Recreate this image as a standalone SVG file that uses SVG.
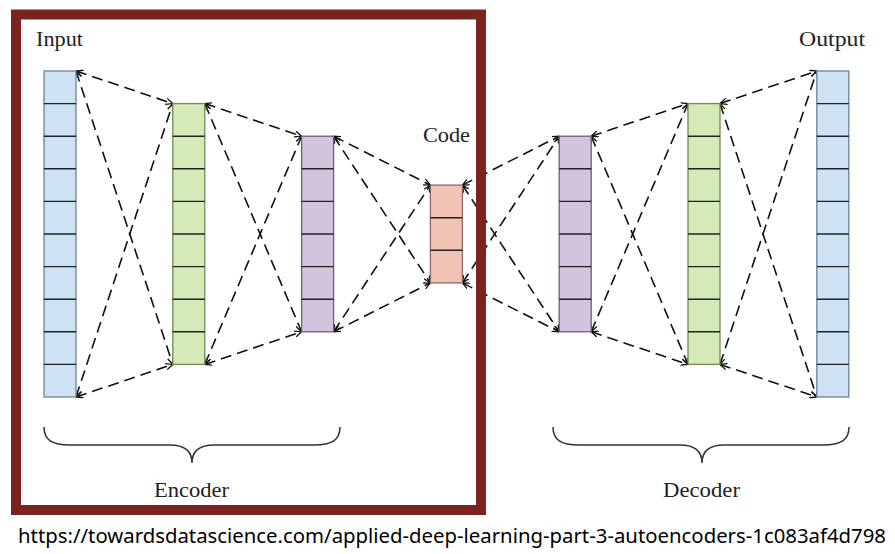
<svg xmlns="http://www.w3.org/2000/svg" width="895" height="554" viewBox="0 0 895 554">
<defs>
<marker id="ah" viewBox="0 0 10 10" refX="10" refY="5" markerWidth="7" markerHeight="7" markerUnits="userSpaceOnUse" orient="auto-start-reverse">
<path d="M0,0.5 L10,5 L0,9.5" fill="none" stroke="#111" stroke-width="1.8"/>
</marker>
<style>
.lbl{font-family:"Liberation Serif","Times New Roman",serif;font-size:21px;fill:#222}
.url{font-family:"Noto Sans","Open Sans",sans-serif;font-size:19px;fill:#000}
.sep{stroke:#222;stroke-width:1.4;fill:none}
.blue{fill:#cde2f4;stroke:#6d8296;stroke-width:1.3}
.green{fill:#d6e9b9;stroke:#6f8a56;stroke-width:1.3}
.purple{fill:#d2c4dc;stroke:#6e5e78;stroke-width:1.3}
.code{fill:#f2c3b5;stroke:#8d6a62;stroke-width:1.3}
.conn line{stroke:#111;stroke-width:1.6;stroke-dasharray:11 6;marker-start:url(#ah);marker-end:url(#ah)}
.brace{fill:none;stroke:#333;stroke-width:1.5}
</style>
</defs>
<rect width="895" height="554" fill="#fff"/>

<g id="connectors" class="conn">
<!-- input -> green1 -->
<line x1="76" y1="71" x2="172.8" y2="103.6"/>
<line x1="76" y1="71" x2="172.8" y2="364.4"/>
<line x1="76" y1="397" x2="172.8" y2="103.6"/>
<line x1="76" y1="397" x2="172.8" y2="364.4"/>
<!-- green1 -> purple1 -->
<line x1="204.8" y1="103.6" x2="301.6" y2="136.2"/>
<line x1="204.8" y1="103.6" x2="301.6" y2="331.8"/>
<line x1="204.8" y1="364.4" x2="301.6" y2="136.2"/>
<line x1="204.8" y1="364.4" x2="301.6" y2="331.8"/>
<!-- purple1 -> code -->
<line x1="333.6" y1="136.2" x2="430.4" y2="185.1"/>
<line x1="333.6" y1="136.2" x2="430.4" y2="282.9"/>
<line x1="333.6" y1="331.8" x2="430.4" y2="185.1"/>
<line x1="333.6" y1="331.8" x2="430.4" y2="282.9"/>
<!-- code -> purple2 -->
<line x1="462.4" y1="185.1" x2="559.2" y2="136.2"/>
<line x1="462.4" y1="185.1" x2="559.2" y2="331.8"/>
<line x1="462.4" y1="282.9" x2="559.2" y2="136.2"/>
<line x1="462.4" y1="282.9" x2="559.2" y2="331.8"/>
<!-- purple2 -> green2 -->
<line x1="591.2" y1="136.2" x2="688" y2="103.6"/>
<line x1="591.2" y1="136.2" x2="688" y2="364.4"/>
<line x1="591.2" y1="331.8" x2="688" y2="103.6"/>
<line x1="591.2" y1="331.8" x2="688" y2="364.4"/>
<!-- green2 -> output -->
<line x1="720" y1="103.6" x2="816.8" y2="71"/>
<line x1="720" y1="103.6" x2="816.8" y2="397"/>
<line x1="720" y1="364.4" x2="816.8" y2="71"/>
<line x1="720" y1="364.4" x2="816.8" y2="397"/>
</g>

<g id="input-layer">
<rect class="blue" x="44" y="71" width="32" height="326"/>
<path class="sep" d="M44,103.6H76M44,136.2H76M44,168.8H76M44,201.4H76M44,234H76M44,266.6H76M44,299.2H76M44,331.8H76M44,364.4H76"/>
<text class="lbl" x="36" y="46" textLength="47" lengthAdjust="spacingAndGlyphs">Input</text>
</g>

<g id="encoder-hidden-1">
<rect class="green" x="172.8" y="103.6" width="32" height="260.8"/>
<path class="sep" d="M172.8,136.2h32M172.8,168.8h32M172.8,201.4h32M172.8,234h32M172.8,266.6h32M172.8,299.2h32M172.8,331.8h32"/>
</g>

<g id="encoder-hidden-2">
<rect class="purple" x="301.6" y="136.2" width="32" height="195.6"/>
<path class="sep" d="M301.6,168.8h32M301.6,201.4h32M301.6,234h32M301.6,266.6h32M301.6,299.2h32"/>
</g>

<g id="code-layer">
<rect class="code" x="430.4" y="185.1" width="32" height="97.8"/>
<path class="sep" d="M430.4,217.7h32M430.4,250.3h32"/>
<text class="lbl" x="423" y="142" textLength="47" lengthAdjust="spacingAndGlyphs">Code</text>
</g>

<g id="decoder-hidden-1">
<rect class="purple" x="559.2" y="136.2" width="32" height="195.6"/>
<path class="sep" d="M559.2,168.8h32M559.2,201.4h32M559.2,234h32M559.2,266.6h32M559.2,299.2h32"/>
</g>

<g id="decoder-hidden-2">
<rect class="green" x="688" y="103.6" width="32" height="260.8"/>
<path class="sep" d="M688,136.2h32M688,168.8h32M688,201.4h32M688,234h32M688,266.6h32M688,299.2h32M688,331.8h32"/>
</g>

<g id="output-layer">
<rect class="blue" x="816.8" y="71" width="32" height="326"/>
<path class="sep" d="M816.8,103.6h32M816.8,136.2h32M816.8,168.8h32M816.8,201.4h32M816.8,234h32M816.8,266.6h32M816.8,299.2h32M816.8,331.8h32M816.8,364.4h32"/>
<text class="lbl" x="799" y="46" textLength="66" lengthAdjust="spacingAndGlyphs">Output</text>
</g>

<g id="encoder-brace">
<path class="brace" d="M44,427 C44,440 52,445 70,445 L170,445 C184,445 192,451 192,463 C192,451 200,445 214,445 L314,445 C332,445 340,440 340,427"/>
<text class="lbl" x="154" y="497" textLength="75" lengthAdjust="spacingAndGlyphs">Encoder</text>
</g>

<g id="decoder-brace">
<path class="brace" d="M553,427 C553,440 561,445 579,445 L680,445 C694,445 702,451 702,463 C702,451 710,445 724,445 L823,445 C841,445 849,440 849,427"/>
<text class="lbl" x="663" y="497" textLength="77" lengthAdjust="spacingAndGlyphs">Decoder</text>
</g>

<g id="encoder-frame">
<rect x="16" y="14.5" width="465" height="495.5" fill="none" stroke="#7b241f" stroke-width="10"/>
</g>

<text class="url" x="18" y="543" textLength="868" lengthAdjust="spacingAndGlyphs">https://towardsdatascience.com/applied-deep-learning-part-3-autoencoders-1c083af4d798</text>
</svg>
